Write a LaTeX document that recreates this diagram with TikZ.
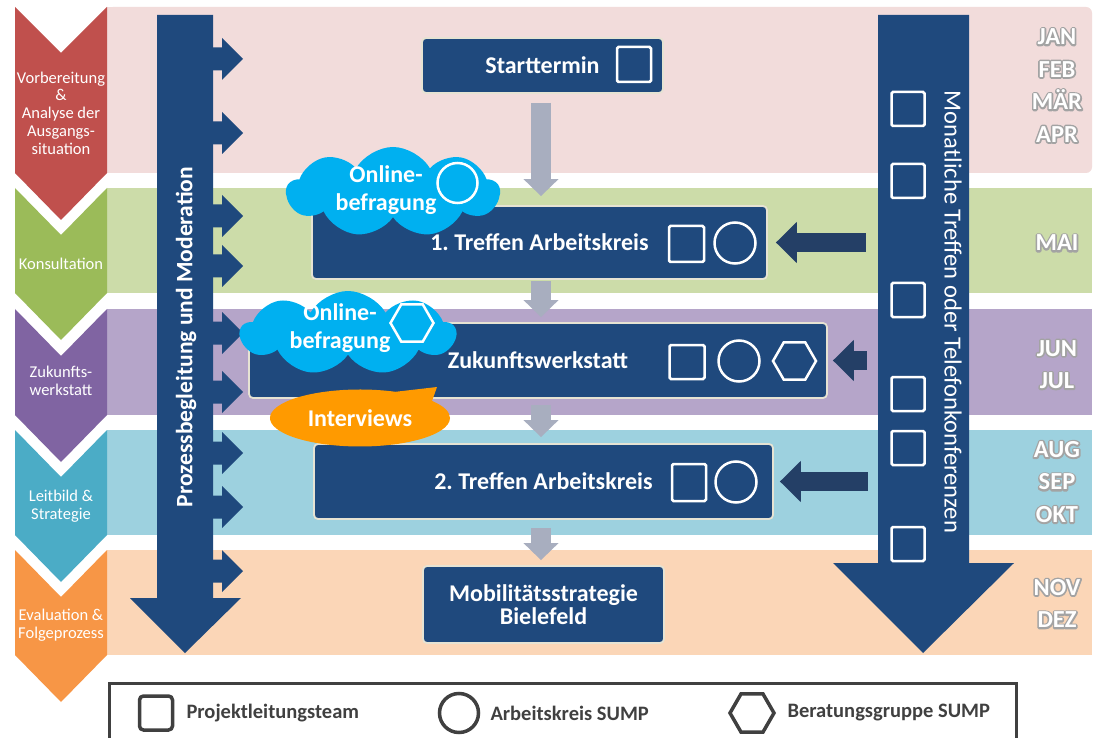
\documentclass[tikz,border=0pt]{standalone}
\usepackage{fontspec}
\setmainfont{Carlito}
\usetikzlibrary{shapes.geometric,shapes.symbols,shapes.callouts,arrows.meta,calc}
\definecolor{navy}{HTML}{1F497D}
\definecolor{darknavy}{HTML}{243F66}
\definecolor{bandred}{HTML}{F2DCDB}
\definecolor{bandgreen}{HTML}{CCDCA9}
\definecolor{bandpurple}{HTML}{B5A5C9}
\definecolor{bandblue}{HTML}{9DD1DF}
\definecolor{bandorange}{HTML}{FBD6B7}
\definecolor{chred}{HTML}{C0504D}
\definecolor{chgreen}{HTML}{9BBB59}
\definecolor{chpurple}{HTML}{8064A2}
\definecolor{chblue}{HTML}{4BACC6}
\definecolor{chorange}{HTML}{F79646}
\definecolor{grayarr}{HTML}{A8AEBF}
\definecolor{cloudc}{HTML}{00B0F0}
\definecolor{ivorange}{HTML}{FF9A00}
\definecolor{boxedge}{HTML}{E6E3D3}
\definecolor{legc}{HTML}{404040}
\newcommand\setfs[2]{\fontsize{#1}{#2}\selectfont}
\newcommand\monthhalo[1]{\leavevmode\rlap{\special{pdf:literal direct 1 Tr 0.64 0.64 0.64 RG 3.2 w 1 j}#1\special{pdf:literal direct 0 Tr 1 1 1 RG 1 w 0 j}}#1}
\frenchspacing
\begin{document}
\begin{tikzpicture}[x=1pt,y=-1pt,
  chevtext/.style={text=white, align=center, font=\setfs{16.5}{17.7}},
  mainbox/.style={draw=boxedge, line width=1.8pt, fill=navy, rounded corners=4pt,
    text=white, font=\setfs{24}{23.5}\bfseries, inner sep=0pt, align=center},
  wsq/.style={draw=white, line width=2.5pt, rounded corners=1.5pt, inner sep=0pt, rectangle},
  wcirc/.style={circle, draw=white, line width=2.5pt, minimum size=41pt, inner sep=0pt},
  whex/.style={regular polygon, regular polygon sides=6, draw=white, line width=2.5pt,
    minimum size=43pt, inner sep=0pt},
  grayarrow/.style={draw=grayarr, line width=20pt, -{Triangle[width=34pt,length=17pt]}},
  darkarrow/.style={draw=darknavy, line width=19pt, -{Triangle[width=40pt,length=21pt]}},
  monthtext/.style={text=white, align=center, font=\setfs{24.5}{32.5}\bfseries},
  cloudtext/.style={text=white, align=center, font=\setfs{24}{28}\bfseries},
  legsym/.style={draw=legc, line width=3.5pt, inner sep=0pt},
  legtext/.style={text=legc, anchor=west, font=\setfs{20.5}{24}\bfseries}
]
\useasboundingbox (0,0) rectangle (1093,738);
\clip (0,0) rectangle (1093,738);
\fill[white] (0,0) rectangle (1093,738);

% bands
\fill[bandred, rounded corners=6pt] (107,7) rectangle (1092,173);
\fill[bandred] (107,7) rectangle (1050,173);
\fill[bandgreen] (107,188) rectangle (1092,293);
\fill[bandpurple] (107,309) rectangle (1092,415);
\fill[bandblue] (107,430) rectangle (1092,535);
\fill[bandorange] (107,550) rectangle (1092,655);

% chevrons
\fill[chred] (15,7) -- (61,53) -- (107,7) -- (107,173) -- (61,220) -- (15,173) -- cycle;
\fill[chgreen] (15,188) -- (61,235) -- (107,188) -- (107,293) -- (61,340) -- (15,293) -- cycle;
\fill[chpurple] (15,309) -- (61,356) -- (107,309) -- (107,415) -- (61,462) -- (15,415) -- cycle;
\fill[chblue] (15,430) -- (61,477) -- (107,430) -- (107,535) -- (61,582) -- (15,535) -- cycle;
\fill[chorange] (15,550) -- (61,597) -- (107,550) -- (107,655) -- (61,702) -- (15,655) -- cycle;
\node[chevtext] (ph1) at (61,113) {Vorbereitung\\\&\\Analyse der\\Ausgangs-\\situation};
\node[chevtext] (ph2) at (61,264) {Konsultation};
\node[chevtext] (ph3) at (61,381) {Zukunfts-\\werkstatt};
\node[chevtext] (ph4) at (61,506) {Leitbild \&\\Strategie};
\node[chevtext] (ph5) at (61,625) {Evaluation \&\\Folgeprozess};

% left big arrow
\fill[navy] (157,15) -- (213,15) -- (213,598) -- (241,598) -- (185,653) -- (130,598) -- (157,598) -- cycle;
\foreach \c in {59,133,216,266,333,392,453,507,571}
  \fill[navy] (210,\c-11.5) -- (222,\c-11.5) -- (222,\c-21) -- (243,\c) -- (222,\c+21) -- (222,\c+11.5) -- (210,\c+11.5) -- cycle;
\node[rotate=90, text=white, font=\setfs{23.5}{28}\bfseries] (ltxt) at (186,337) {Prozessbegleitung und Moderation};

% right big arrow
\fill[navy] (878,15) -- (969,15) -- (969,563) -- (1014,563) -- (923,653) -- (833,563) -- (878,563) -- cycle;
\node[rotate=-90, text=white, font=\setfs{24.6}{28}] (rtxt) at (953,312) {Monatliche Treffen oder Telefonkonferenzen};
\foreach \y [count=\i] in {109,181,300,394,448,544}
  \node[wsq, minimum width=33pt, minimum height=34pt] (rs\i) at (908,\y) {};

% main boxes
\node[mainbox, minimum width=241pt, minimum height=55pt] (start) at (542.5,65.5) {Starttermin};
\node[mainbox, minimum width=455pt, minimum height=73pt] (box1) at (539.5,242.5) {1. Treffen Arbeitskreis};
\node[mainbox, minimum width=578pt, minimum height=75pt] (zw) at (538,360.5) {Zukunftswerkstatt};
\node[mainbox, minimum width=459pt, minimum height=75pt] (box2) at (543.5,481.5) {2. Treffen Arbeitskreis};
\node[mainbox, minimum width=241pt, minimum height=77pt] (mob) at (543.5,604.5) {Mobilitätsstrategie\\Bielefeld};

% symbols in boxes
\node[wsq, minimum width=34pt, minimum height=35pt] (sq0) at (634,64.5) {};
\node[wsq, minimum width=35pt, minimum height=36pt] (sq1) at (686.5,244) {};
\node[wcirc] (ci1) at (735,243) {};
\node[wsq, minimum width=35pt, minimum height=34pt] (sq2) at (687,362) {};
\node[wcirc] (ci2) at (739,361) {};
\node[whex] (hx2) at (794.5,361) {};
\node[wsq, minimum width=34pt, minimum height=37pt] (sq3) at (689,482.5) {};
\node[wcirc] (ci3) at (736,482) {};

% gray flow arrows
\coordinate (axis) at (541,0);
\draw[grayarrow] ($(axis |- start.south)+(0,9)$) -- ($(axis |- box1.north)+(0,-9)$);
\draw[grayarrow] ($(axis |- box1.south)+(0,1)$) -- ($(axis |- zw.north)+(0,-5)$);
\draw[grayarrow] ($(axis |- zw.south)+(0,6)$) -- ($(axis |- box2.north)+(0,-6)$);
\draw[grayarrow] ($(axis |- box2.south)+(0,8)$) -- ($(axis |- mob.north)+(0,-5)$);

% dark arrows from the right
\coordinate (t1) at ($(box1.east)+(98,0)$);
\coordinate (t2) at ($(zw.east)+(39,0)$);
\coordinate (t3) at ($(box2.east)+(94,0)$);
\draw[darkarrow] (t1) -- ($(box1.east)+(8,0)$);
\draw[darkarrow] (t2) -- ($(zw.east)+(5,0)$);
\draw[darkarrow] (t3) -- ($(box2.east)+(6,0)$);

% clouds
\node[cloud, cloud puffs=9, cloud puff arc=120, aspect=2.4, fill=cloudc, inner sep=0pt,
  minimum width=213pt, minimum height=90pt] (cl1) at (393,192) {};
\node[cloudtext] (cl1t) at (386,190) {Online-\\befragung};
\node[wcirc, minimum size=40pt] (cl1c) at (457.5,183) {};
\node[cloud, cloud puffs=9, cloud puff arc=120, aspect=2.6, fill=cloudc, inner sep=0pt,
  minimum width=215pt, minimum height=84pt] (cl2) at (348,333) {};
\node[cloudtext] (cl2t) at (340,328) {Online-\\befragung};
\node[whex] (cl2h) at (412,323) {};

% interviews
\node[ellipse callout, callout absolute pointer={(437,387)}, callout pointer arc=30,
  fill=ivorange, inner sep=0pt, minimum width=180pt, minimum height=57pt,
  text=white, font=\setfs{24}{28}\bfseries] (iv) at (360,418) {Interviews};

% months
\node[monthtext] (mo1) at (1057,85.5) {\monthhalo{JAN}\\\monthhalo{FEB}\\\monthhalo{MÄR}\\\monthhalo{APR}};
\node[monthtext] (mo2) at (1057,243) {\monthhalo{MAI}};
\node[monthtext] (mo3) at (1057,364.5) {\monthhalo{JUN}\\\monthhalo{JUL}};
\node[monthtext] (mo4) at (1057,482) {\monthhalo{AUG}\\\monthhalo{SEP}\\\monthhalo{OKT}};
\node[monthtext] (mo5) at (1057,603.5) {\monthhalo{NOV}\\\monthhalo{DEZ}};

% legend
\draw[draw=legc, line width=3pt, fill=white] (109,683) rectangle (1016,760);
\node[legsym, rectangle, rounded corners=4pt, minimum width=33pt, minimum height=34pt] (lg1) at (156,713) {};
\node[legtext] (lg1t) at (183,713) {Projektleitungsteam};
\node[legsym, circle, minimum size=39pt] (lg2) at (459,713) {};
\node[legtext] (lg2t) at (487,713) {Arbeitskreis SUMP};
\node[legsym, regular polygon, regular polygon sides=6, minimum size=44pt] (lg3) at (752,713) {};
\node[legtext] (lg3t) at (784,713) {Beratungsgruppe SUMP};
\end{tikzpicture}
\end{document}
